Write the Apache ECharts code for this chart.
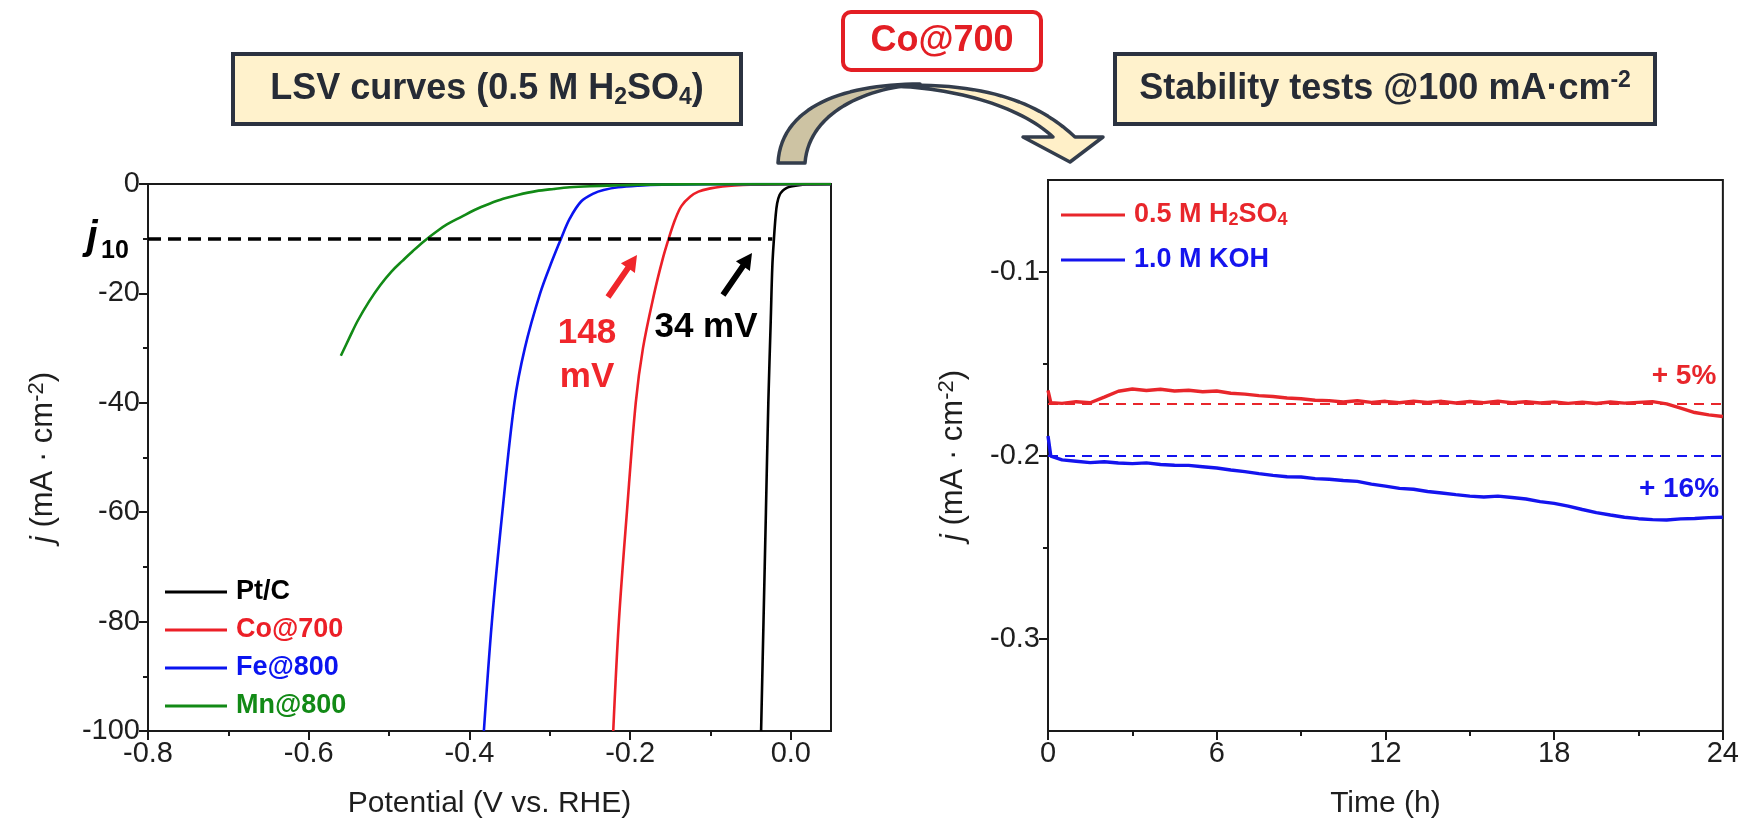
<!DOCTYPE html>
<html>
<head>
<meta charset="utf-8">
<script src="https://cdn.jsdelivr.net/npm/echarts@6/dist/echarts.min.js"></script>
<style>
  html, body { margin: 0; padding: 0; background: #fff; }
  #chart { width: 1742px; height: 828px; }
</style>
</head>
<body>
<div id="chart"></div>
<script>
const FONT = "'Liberation Sans', Arial, Helvetica, sans-serif";

// LSV curves in 0.5 M H2SO4: [potential (V vs. RHE), j (mA cm-2)]
const lsvPtC = [[-0.037, -100], [-0.034, -80], [-0.031, -60], [-0.028, -40], [-0.025, -25], [-0.023, -15],
  [-0.021, -10], [-0.019, -6], [-0.017, -3.5], [-0.014, -2], [-0.010, -1.2], [-0.005, -0.7], [0.0, -0.45],
  [0.008, -0.25], [0.02, -0.1], [0.05, -0.05]];
const lsvCo700 = [[-0.221, -100], [-0.214, -80], [-0.204, -60], [-0.193, -40], [-0.184, -30], [-0.170, -20],
  [-0.160, -14], [-0.152, -10], [-0.144, -6.5], [-0.136, -4], [-0.125, -2.3], [-0.115, -1.4], [-0.100, -0.8],
  [-0.085, -0.45], [-0.070, -0.25], [-0.050, -0.12], [0.0, -0.05], [0.05, 0]];
const lsvFe800 = [[-0.382, -100], [-0.372, -80], [-0.359, -60], [-0.344, -40], [-0.331, -30], [-0.312, -20],
  [-0.297, -14], [-0.286, -10], [-0.275, -6.3], [-0.261, -3.2], [-0.245, -1.7], [-0.233, -1.1], [-0.215, -0.6],
  [-0.190, -0.3], [-0.160, -0.12], [-0.100, -0.04], [0.05, 0]];
const lsvMn800 = [[-0.560, -31.4], [-0.549, -28], [-0.539, -25], [-0.525, -21.5], [-0.511, -18.5], [-0.497, -16],
  [-0.483, -14], [-0.470, -12.2], [-0.456, -10.4], [-0.440, -8.6], [-0.428, -7.4], [-0.410, -6], [-0.393, -4.7],
  [-0.375, -3.6], [-0.358, -2.7], [-0.340, -2], [-0.317, -1.3], [-0.295, -0.9], [-0.275, -0.6], [-0.250, -0.4],
  [-0.219, -0.25], [-0.180, -0.12], [-0.100, -0.05], [0.05, 0]];
const lsvNames = ['Pt/C', 'Co@700', 'Fe@800', 'Mn@800'];
const lsvColors = ['#000000', '#ec1f27', '#0a14f0', '#128a16'];
const j10 = -10;
const j10End = -0.023;

const lsvXTicks = [-0.8, -0.6, -0.4, -0.2, 0];
const lsvXMinor = [-0.7, -0.5, -0.3, -0.1];
const lsvYTicks = [0, -20, -40, -60, -80, -100];
const lsvYMinor = [-10, -30, -50, -70, -90];

// stability tests @100 mA cm-2
const hours = [0, 0.1, 0.5, 1, 1.5, 2, 2.5, 3, 3.5, 4, 4.5, 5, 5.5, 6, 6.5, 7, 7.5, 8, 8.5, 9, 9.5, 10,
  10.5, 11, 11.5, 12, 12.5, 13, 13.5, 14, 14.5, 15, 15.5, 16, 16.5, 17, 17.5, 18, 18.5, 19, 19.5, 20,
  20.5, 21, 21.5, 22, 22.5, 23, 23.5, 24];
const acidJ = [-0.1645, -0.1712, -0.1716, -0.1707, -0.1713, -0.1682, -0.1650, -0.1638, -0.1646, -0.1639,
  -0.1649, -0.1645, -0.1653, -0.1649, -0.1661, -0.1666, -0.1674, -0.1679, -0.1687, -0.1691, -0.1699, -0.1701,
  -0.1709, -0.1702, -0.1711, -0.1705, -0.1713, -0.1704, -0.1711, -0.1705, -0.1714, -0.1706, -0.1712, -0.1704,
  -0.1713, -0.1707, -0.1714, -0.1708, -0.1716, -0.1710, -0.1717, -0.1709, -0.1715, -0.1711, -0.1707, -0.1719,
  -0.1742, -0.1766, -0.1779, -0.1788];
const alkJ = [-0.1894, -0.2003, -0.2024, -0.2031, -0.2039, -0.2034, -0.2041, -0.2044, -0.2040, -0.2049,
  -0.2053, -0.2054, -0.2061, -0.2068, -0.2079, -0.2088, -0.2099, -0.2108, -0.2116, -0.2117, -0.2126, -0.2129,
  -0.2136, -0.2141, -0.2156, -0.2167, -0.2179, -0.2184, -0.2196, -0.2204, -0.2213, -0.2221, -0.2226, -0.2221,
  -0.2229, -0.2237, -0.2251, -0.2261, -0.2276, -0.2294, -0.2311, -0.2324, -0.2336, -0.2344, -0.2349, -0.2351,
  -0.2345, -0.2343, -0.2338, -0.2336];
const stabNames = ['0.5 M H2SO4', '1.0 M KOH'];
const stabColors = ['#e8262b', '#1414ee'];
const acidRef = -0.1718;
const alkRef = -0.2;

const timeTicks = [0, 6, 12, 18, 24];
const timeMinor = [3, 9, 15, 21];
const stabYTicks = [-0.3, -0.2, -0.1];
const stabYMinor = [-0.25, -0.15];

const axisColor = '#1a1a1a';

function mainAxis(gridIndex, min, max, ticks, fmt, extra) {
  return Object.assign({
    type: 'value', gridIndex: gridIndex, min: min, max: max,
    axisLine: { show: true, onZero: false, lineStyle: { color: axisColor, width: 2 } },
    axisTick: { show: true, customValues: ticks, length: 9, lineStyle: { color: axisColor, width: 2 } },
    axisLabel: { customValues: ticks, formatter: fmt, fontSize: 29, color: '#1e1e1e', fontFamily: FONT, margin: 8 },
    splitLine: { show: false }
  }, extra);
}

function minorAxis(gridIndex, min, max, ticks, position) {
  return {
    type: 'value', gridIndex: gridIndex, min: min, max: max, position: position,
    axisLine: { show: false, onZero: false },
    axisTick: { show: true, customValues: ticks, length: 5, lineStyle: { color: axisColor, width: 2 } },
    axisLabel: { show: false },
    splitLine: { show: false }
  };
}

const nameStyle = {
  fontSize: 31, color: '#1e1e1e', fontFamily: FONT,
  rich: {
    i: { fontSize: 31, fontStyle: 'italic', color: '#1e1e1e', fontFamily: FONT, lineHeight: 34 },
    t: { fontSize: 31, color: '#1e1e1e', fontFamily: FONT, lineHeight: 34 },
    sup: { fontSize: 22, color: '#1e1e1e', fontFamily: FONT, lineHeight: 22, verticalAlign: 'top' }
  }
};
const jName = '{i|j}{t| (mA · cm}{sup|-2}{t|)}';

function lineSeries(name, data, color, xi, yi, width) {
  return {
    name: name, type: 'line', xAxisIndex: xi, yAxisIndex: yi, data: data,
    symbol: 'none', showSymbol: false, smooth: 0.35,
    lineStyle: { color: color, width: width }, itemStyle: { color: color },
    emphasis: { disabled: true }
  };
}

function refLine(y, color) {
  return {
    silent: true, symbol: 'none', label: { show: false },
    lineStyle: { color: color, width: 2, type: [10, 7] },
    emphasis: { disabled: true },
    data: [[{ coord: [0, y] }, { coord: [24, y] }]]
  };
}

// straight block arrow as polygon points
function arrowPoints(x1, y1, x2, y2, half, headHalf, headLen) {
  const dx = x2 - x1, dy = y2 - y1;
  const len = Math.sqrt(dx * dx + dy * dy);
  const ux = dx / len, uy = dy / len, nx = -uy, ny = ux;
  const bx = x2 - ux * headLen, by = y2 - uy * headLen;
  return [
    [x1 + nx * half, y1 + ny * half], [bx + nx * half, by + ny * half], [bx + nx * headHalf, by + ny * headHalf],
    [x2, y2],
    [bx - nx * headHalf, by - ny * headHalf], [bx - nx * half, by - ny * half], [x1 - nx * half, y1 - ny * half]
  ];
}

function bezier(p0, p1, p2, p3, n) {
  const pts = [];
  for (let k = 0; k <= n; k++) {
    const t = k / n, m = 1 - t;
    pts.push([
      m * m * m * p0[0] + 3 * m * m * t * p1[0] + 3 * m * t * t * p2[0] + t * t * t * p3[0],
      m * m * m * p0[1] + 3 * m * m * t * p1[1] + 3 * m * t * t * p2[1] + t * t * t * p3[1]
    ]);
  }
  return pts;
}

const arrowBack = bezier([778, 163], [781, 106], [845, 84], [920, 84], 30)
  .concat(bezier([920, 84], [866, 88], [809, 112], [805, 163], 30));
const arrowFront = bezier([890, 86], [1000, 80], [1048, 112], [1075, 137], 30)
  .concat([[1103, 137], [1070, 162], [1023, 137], [1053, 137]])
  .concat(bezier([1053, 137], [1022, 108], [960, 88], [890, 86], 30));

const boxText = {
  fontSize: 36, fontWeight: 'bold', fontFamily: FONT, fill: '#262b35',
  align: 'center', verticalAlign: 'middle',
  rich: {
    t: { fontSize: 36, fontWeight: 'bold', fontFamily: FONT, lineHeight: 40 },
    sub: { fontSize: 23, fontWeight: 'bold', fontFamily: FONT, lineHeight: 20, verticalAlign: 'bottom' },
    sup: { fontSize: 23, fontWeight: 'bold', fontFamily: FONT, lineHeight: 22, verticalAlign: 'top' }
  }
};

function label(x, y, text, color, size, extra) {
  return {
    type: 'text', x: x, y: y, silent: true,
    style: Object.assign({
      text: text, fill: color, fontSize: size, fontWeight: 'bold', fontFamily: FONT,
      align: 'center', verticalAlign: 'middle'
    }, extra || {})
  };
}

const chart = echarts.init(document.getElementById('chart'));

const option = {
  backgroundColor: '#ffffff',
  animation: false,
  grid: [
    { left: 148, top: 184, width: 683, height: 547, show: true, borderColor: axisColor, borderWidth: 2, containLabel: false },
    { left: 1048, top: 180, width: 678, height: 551, show: true, borderColor: axisColor, borderWidth: 2, containLabel: false }
  ],
  xAxis: [
    mainAxis(0, -0.8, 0.05, lsvXTicks, v => v.toFixed(1), {
      position: 'bottom', name: 'Potential (V vs. RHE)', nameLocation: 'middle', nameGap: 58,
      nameTextStyle: { fontSize: 30, color: '#1e1e1e', fontFamily: FONT }
    }),
    minorAxis(0, -0.8, 0.05, lsvXMinor, 'bottom'),
    mainAxis(1, 0, 24, timeTicks, v => String(v), {
      position: 'bottom', name: 'Time (h)', nameLocation: 'middle', nameGap: 58,
      nameTextStyle: { fontSize: 30, color: '#1e1e1e', fontFamily: FONT }
    }),
    minorAxis(1, 0, 24, timeMinor, 'bottom')
  ],
  yAxis: [
    mainAxis(0, -100, 0, lsvYTicks, v => String(v), {
      position: 'left', name: jName, nameLocation: 'middle', nameGap: 88, nameTextStyle: nameStyle
    }),
    minorAxis(0, -100, 0, lsvYMinor, 'left'),
    mainAxis(1, -0.35, -0.05, stabYTicks, v => v.toFixed(1), {
      position: 'left', name: jName, nameLocation: 'middle', nameGap: 78, nameTextStyle: nameStyle
    }),
    minorAxis(1, -0.35, -0.05, stabYMinor, 'left')
  ],
  legend: [
    {
      data: lsvNames.map((n, i) => ({ name: n, textStyle: { color: lsvColors[i] } })),
      orient: 'vertical', left: 160, top: 573, icon: 'rect', itemWidth: 62, itemHeight: 3, itemGap: 10,
      selectedMode: false,
      textStyle: { fontSize: 27, fontWeight: 'bold', fontFamily: FONT, lineHeight: 28, padding: [0, 0, 0, 4] }
    },
    {
      data: stabNames.map((n, i) => ({ name: n, textStyle: { color: stabColors[i] } })),
      orient: 'vertical', left: 1056, top: 196, icon: 'rect', itemWidth: 64, itemHeight: 3, itemGap: 17,
      selectedMode: false,
      formatter: n => (n === '0.5 M H2SO4' ? '0.5 M H{sub|2}SO{sub|4}' : n),
      textStyle: {
        fontSize: 27, fontWeight: 'bold', fontFamily: FONT, lineHeight: 28, padding: [0, 0, 0, 4],
        rich: { sub: { fontSize: 18, fontWeight: 'bold', fontFamily: FONT, lineHeight: 12, verticalAlign: 'bottom' } }
      }
    }
  ],
  series: [
    Object.assign(lineSeries(lsvNames[0], lsvPtC, lsvColors[0], 0, 0, 2.6), {
      markLine: {
        silent: true, symbol: 'none', label: { show: false },
        lineStyle: { color: '#000', width: 3.5, type: [13, 7] },
        emphasis: { disabled: true },
        data: [[{ coord: [-0.8, j10] }, { coord: [j10End, j10] }]]
      }
    }),
    lineSeries(lsvNames[1], lsvCo700, lsvColors[1], 0, 0, 2.6),
    lineSeries(lsvNames[2], lsvFe800, lsvColors[2], 0, 0, 2.6),
    lineSeries(lsvNames[3], lsvMn800, lsvColors[3], 0, 0, 2.6),
    Object.assign(lineSeries(stabNames[0], hours.map((t, i) => [t, acidJ[i]]), stabColors[0], 2, 2, 3.4), {
      smooth: false, markLine: refLine(acidRef, stabColors[0])
    }),
    Object.assign(lineSeries(stabNames[1], hours.map((t, i) => [t, alkJ[i]]), stabColors[1], 2, 2, 3.4), {
      smooth: false, markLine: refLine(alkRef, stabColors[1])
    })
  ],
  graphic: [
    // header boxes
    { type: 'rect', silent: true, shape: { x: 233, y: 54, width: 508, height: 70 },
      style: { fill: '#fff2cc', stroke: '#2b3240', lineWidth: 4 } },
    { type: 'text', x: 487, y: 89, silent: true,
      style: Object.assign({ text: '{t|LSV curves (0.5 M H}{sub|2}{t|SO}{sub|4}{t|)}' }, boxText) },
    { type: 'rect', silent: true, shape: { x: 1115, y: 54, width: 540, height: 70 },
      style: { fill: '#fff2cc', stroke: '#2b3240', lineWidth: 4 } },
    { type: 'text', x: 1385, y: 89, silent: true,
      style: Object.assign({ text: '{t|Stability tests @100 mA·cm}{sup|-2}' }, boxText) },
    { type: 'rect', silent: true, shape: { x: 843, y: 12, width: 198, height: 58, r: 8 },
      style: { fill: '#ffffff', stroke: '#e31e24', lineWidth: 4 } },
    label(942, 41, 'Co@700', '#e31e24', 36),
    // curved arrow
    { type: 'polygon', silent: true, shape: { points: arrowBack },
      style: { fill: '#cdc3a3', stroke: '#333d4c', lineWidth: 3.5, lineJoin: 'round' } },
    { type: 'polygon', silent: true, shape: { points: arrowFront },
      style: { fill: '#fff0c8', stroke: '#333d4c', lineWidth: 3.5, lineJoin: 'round' } },
    // LSV annotations
    label(92, 238, 'j', '#000', 40, { fontStyle: 'italic' }),
    label(115, 251, '10', '#000', 25),
    { type: 'polygon', silent: true, shape: { points: arrowPoints(608, 297, 637, 255, 3, 8.5, 16) },
      style: { fill: '#f0262b' } },
    { type: 'polygon', silent: true, shape: { points: arrowPoints(723, 295, 752, 253, 3, 8.5, 16) },
      style: { fill: '#000000' } },
    label(587, 333, '148', '#f0262b', 35),
    label(587, 377, 'mV', '#f0262b', 35),
    label(706, 327, '34 mV', '#000000', 35),
    // stability annotations
    label(1684, 376, '+ 5%', stabColors[0], 28),
    label(1679, 489, '+ 16%', stabColors[1], 28)
  ]
};

chart.setOption(option);
</script>
</body>
</html>
